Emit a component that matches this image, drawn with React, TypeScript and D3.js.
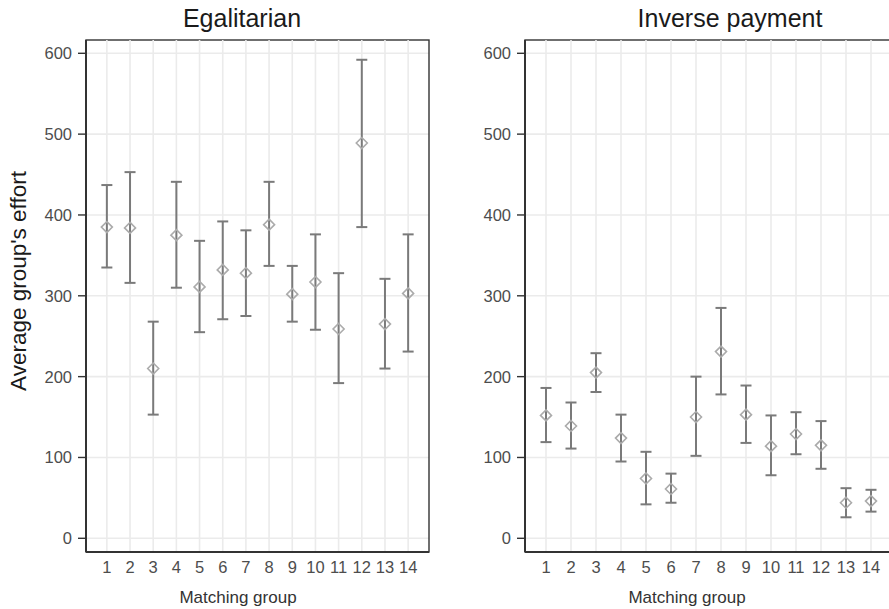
import { useEffect, useRef } from 'react';
import * as d3 from 'd3';

const groups = [1, 2, 3, 4, 5, 6, 7, 8, 9, 10, 11, 12, 13, 14];
const yTicks = [0, 100, 200, 300, 400, 500, 600];

// Egalitarian treatment: mean and error bar ends per matching group
const egalMean = [385, 384, 210, 375, 311, 332, 328, 388, 302, 317, 259, 489, 265, 303];
const egalLow = [335, 316, 153, 310, 255, 271, 275, 337, 268, 258, 192, 385, 210, 231];
const egalHigh = [437, 453, 268, 441, 368, 392, 381, 441, 337, 376, 328, 592, 321, 376];

// Inverse payment treatment
const invMean = [152, 139, 205, 124, 74, 61, 150, 231, 153, 114, 129, 115, 44, 46];
const invLow = [119, 111, 181, 95, 42, 44, 102, 178, 118, 78, 104, 86, 26, 33];
const invHigh = [186, 168, 229, 153, 107, 80, 200, 285, 189, 152, 156, 145, 62, 60];

export default function App() {
  const svgRef = useRef<SVGSVGElement>(null);

  useEffect(() => {
    if (!svgRef.current) return;
    const width = 889;
    const height = 609;
    const svg = d3.select(svgRef.current)
      .attr("width", width)
      .attr("height", height)
      .style("font-family", "Arial, 'Liberation Sans', sans-serif");
    svg.selectAll("*").remove();
    svg.append("rect").attr("width", width).attr("height", height).attr("fill", "#ffffff");

    const top = 40;
    const bottom = 552;
    const y = d3.scaleLinear().domain([0, 600]).range([538.3, 53.3]);

    const panels = [
      { title: "Egalitarian", left: 86, right: 429, pad: 0.9, titleX: 242, xLabelX: 238, mean: egalMean, low: egalLow, high: egalHigh },
      { title: "Inverse payment", left: 525, right: 892, pad: 0.84, titleX: 730, xLabelX: 687, mean: invMean, low: invLow, high: invHigh },
    ];

    panels.forEach(p => {
      const x = d3.scalePoint<number>().domain(groups).range([p.left, p.right]).padding(p.pad);
      const g = svg.append("g");

      // grid
      g.selectAll("line.hgrid").data(yTicks).enter().append("line")
        .attr("x1", p.left).attr("x2", p.right)
        .attr("y1", d => y(d)).attr("y2", d => y(d))
        .attr("stroke", "#ebebeb").attr("stroke-width", 1.6);

      // border
      g.append("rect")
        .attr("x", p.left).attr("y", top)
        .attr("width", p.right - p.left).attr("height", bottom - top)
        .attr("fill", "none").attr("stroke", "#333333").attr("stroke-width", 1.4);

      g.selectAll("line.vgrid").data(groups).enter().append("line")
        .attr("x1", d => x(d)!).attr("x2", d => x(d)!)
        .attr("y1", top).attr("y2", bottom - 1)
        .attr("stroke", "#ebebeb").attr("stroke-width", 1.6);

      // left and bottom axis lines
      g.append("line").attr("x1", p.left).attr("x2", p.left).attr("y1", top).attr("y2", bottom)
        .attr("stroke", "#333333").attr("stroke-width", 2);
      g.append("line").attr("x1", p.left).attr("x2", p.right).attr("y1", bottom).attr("y2", bottom)
        .attr("stroke", "#333333").attr("stroke-width", 2);

      // y ticks
      g.selectAll("line.ytick").data(yTicks).enter().append("line")
        .attr("x1", p.left - 8).attr("x2", p.left)
        .attr("y1", d => y(d)).attr("y2", d => y(d))
        .attr("stroke", "#333333").attr("stroke-width", 1.4);
      g.selectAll("text.ytick").data(yTicks).enter().append("text")
        .attr("x", p.left - 14).attr("y", d => y(d)).attr("dy", "0.36em")
        .attr("text-anchor", "end").attr("font-size", 16.5).attr("fill", "#4d4d4d")
        .text(d => d);

      // x tick labels
      g.selectAll("text.xtick").data(groups).enter().append("text")
        .attr("x", d => x(d)!).attr("y", 573)
        .attr("text-anchor", "middle").attr("font-size", 16.5).attr("fill", "#4d4d4d")
        .text(d => d);

      // error bars
      const bars = g.selectAll("g.bar").data(groups).enter().append("g");
      bars.append("line")
        .attr("x1", d => x(d)!).attr("x2", d => x(d)!)
        .attr("y1", (d, i) => y(p.low[i])).attr("y2", (d, i) => y(p.high[i]))
        .attr("stroke", "#7a7a7a").attr("stroke-width", 2);
      bars.append("line")
        .attr("x1", d => x(d)! - 5.5).attr("x2", d => x(d)! + 5.5)
        .attr("y1", (d, i) => y(p.low[i])).attr("y2", (d, i) => y(p.low[i]))
        .attr("stroke", "#7a7a7a").attr("stroke-width", 2);
      bars.append("line")
        .attr("x1", d => x(d)! - 5.5).attr("x2", d => x(d)! + 5.5)
        .attr("y1", (d, i) => y(p.high[i])).attr("y2", (d, i) => y(p.high[i]))
        .attr("stroke", "#7a7a7a").attr("stroke-width", 2);

      // diamonds
      const s = 5.5;
      bars.append("path")
        .attr("d", (d, i) => {
          const cx = x(d)!;
          const cy = y(p.mean[i]);
          return `M${cx},${cy - s}L${cx + s},${cy}L${cx},${cy + s}L${cx - s},${cy}Z`;
        })
        .attr("fill", "none").attr("stroke", "#ababab").attr("stroke-width", 1.6);

      // titles
      g.append("text").attr("x", p.titleX).attr("y", 26.5)
        .attr("text-anchor", "middle").attr("font-size", 25).attr("fill", "#1a1a1a")
        .text(p.title);
      g.append("text").attr("x", p.xLabelX).attr("y", 603)
        .attr("text-anchor", "middle").attr("font-size", 17).attr("fill", "#333333")
        .text("Matching group");
    });

    svg.append("text")
      .attr("transform", "translate(26,281) rotate(-90)")
      .attr("text-anchor", "middle").attr("font-size", 22.5).attr("fill", "#1a1a1a")
      .text("Average group's effort");
  }, []);

  return (
    <div style={{ position: "fixed", left: 0, top: 0 }}>
      <svg ref={svgRef} style={{ display: "block" }} />
    </div>
  );
}
